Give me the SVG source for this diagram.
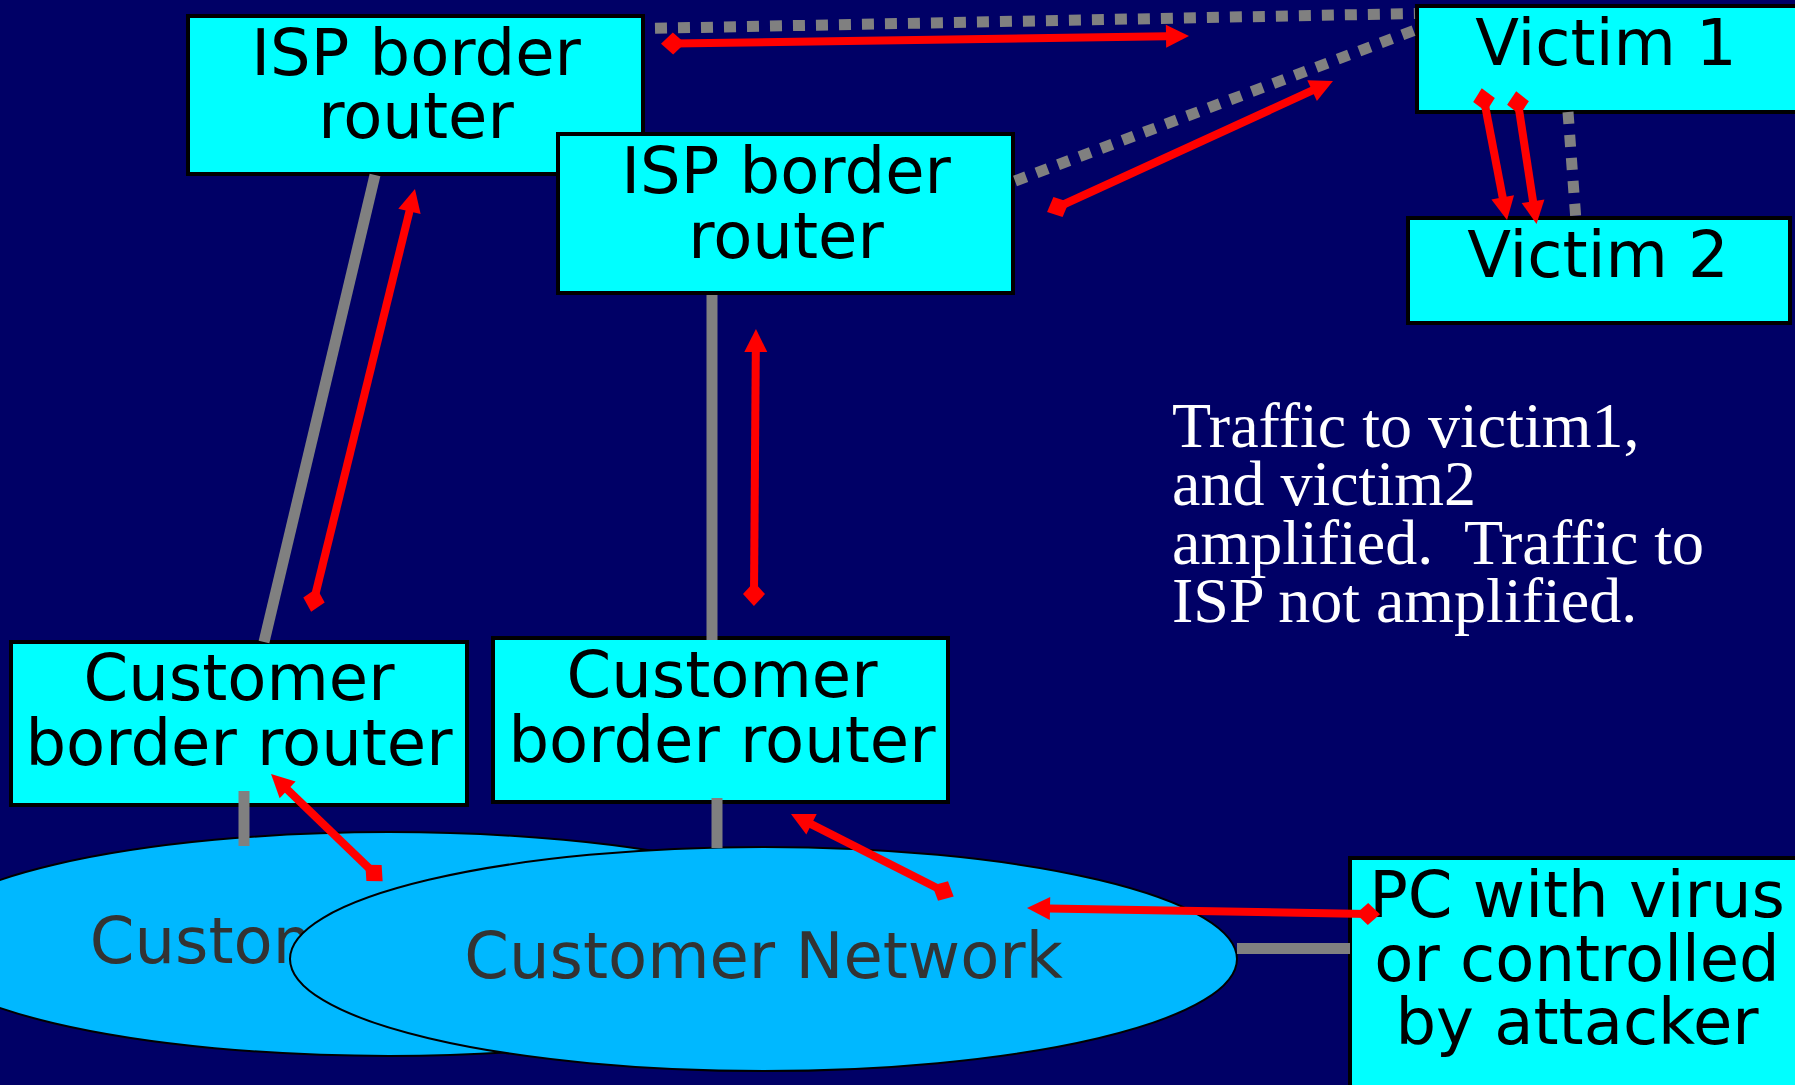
<svg xmlns="http://www.w3.org/2000/svg" width="1795" height="1085" viewBox="0 0 1795 1085">
<style>
.box{fill:#00FFFF;stroke:#000;stroke-width:4}
.lbl{font-family:Verdana,"DejaVu Sans",sans-serif;font-size:64px;fill:#000;text-anchor:middle}
.net{fill:#00B8FF;stroke:#000;stroke-width:2}
.netlbl{font-family:Verdana,"DejaVu Sans",sans-serif;font-size:64px;fill:#333333;text-anchor:middle}
.link{stroke:#808080;stroke-width:11;fill:none}
.dot{stroke:#808080;stroke-width:11;stroke-dasharray:12 11;fill:none}
.flow{stroke:#FF0000;stroke-width:8;fill:none;marker-start:url(#dia);marker-end:url(#arr)}
.note{font-family:"Liberation Serif","Times New Roman",serif;font-size:64px;fill:#FFFFFF;white-space:pre}
</style>
<defs>
<marker id="arr" markerUnits="userSpaceOnUse" viewBox="-2 -12 26 24" markerWidth="26" markerHeight="24" refX="0" refY="0" orient="auto" overflow="visible">
<path d="M-1,-11.5 L22,0 L-1,11.5 z" fill="#FF0000"/>
</marker>
<marker id="dia" markerUnits="userSpaceOnUse" viewBox="-13 -13 26 26" markerWidth="26" markerHeight="26" refX="0" refY="0" orient="auto" overflow="visible">
<path d="M-12,0 L0,-11 L12,0 L0,11 z" fill="#FF0000"/>
</marker>
</defs>
<rect width="1795" height="1085" fill="#000066"/>

<g id="net1">
<ellipse class="net" cx="389" cy="944" rx="474" ry="112"/>
<text class="netlbl" x="389" y="963">Customer Network</text>
</g>
<g id="net2">
<ellipse class="net" cx="763.5" cy="959" rx="473.5" ry="112"/>
<text class="netlbl" x="763.5" y="978">Customer Network</text>
</g>

<g id="isp1">
<rect class="box" x="188" y="16" width="455" height="158"/>
<text class="lbl" x="416" y="75">ISP border</text>
<text class="lbl" x="416" y="138">router</text>
</g>
<g id="isp2">
<rect class="box" x="558" y="134" width="455" height="159"/>
<text class="lbl" x="786" y="193">ISP border</text>
<text class="lbl" x="786" y="258">router</text>
</g>
<g id="victim1">
<rect class="box" x="1417" y="6" width="390" height="106"/>
<text class="lbl" x="1606" y="65">Victim 1</text>
</g>
<g id="victim2">
<rect class="box" x="1408" y="218" width="382" height="105"/>
<text class="lbl" x="1598" y="277">Victim 2</text>
</g>
<g id="cust1">
<rect class="box" x="11" y="642" width="456" height="163"/>
<text class="lbl" x="239" y="700">Customer</text>
<text class="lbl" x="239" y="765">border router</text>
</g>
<g id="cust2">
<rect class="box" x="493" y="638" width="455" height="164"/>
<text class="lbl" x="722" y="697">Customer</text>
<text class="lbl" x="722" y="762">border router</text>
</g>
<g id="pc">
<rect class="box" x="1350" y="858" width="460" height="240"/>
<text class="lbl" x="1577" y="917">PC with virus</text>
<text class="lbl" x="1577" y="981">or controlled</text>
<text class="lbl" x="1577" y="1044">by attacker</text>
</g>

<g id="note">
<text class="note" x="1172" y="447">Traffic to victim1,</text>
<text class="note" x="1172" y="505">and victim2</text>
<text class="note" x="1172" y="564" xml:space="preserve">amplified.  Traffic to</text>
<text class="note" x="1172" y="622">ISP not amplified.</text>
</g>

<g id="connectors">
<line class="link" x1="375" y1="175" x2="264" y2="642"/>
<line class="link" x1="712" y1="295" x2="712" y2="640"/>
<line class="link" x1="244" y1="791" x2="244" y2="846"/>
<line class="link" x1="717" y1="798" x2="717" y2="848"/>
<line class="link" x1="1237" y1="948.5" x2="1350" y2="948.5"/>
<line class="dot" x1="655" y1="28.3" x2="1415" y2="13.5"/>
<line class="dot" x1="1015" y1="181" x2="1415" y2="30"/>
<line class="dot" x1="1568" y1="112" x2="1576" y2="221"/>
<path class="flow" d="M673,43.5 L1167,36.3"/>
<path class="flow" d="M1058,207 L1313,90.2"/>
<path class="flow" d="M1484,100 L1502.9,198.4"/>
<path class="flow" d="M1518,103 L1533.2,202.3"/>
<path class="flow" d="M314,600 L409.7,210.4"/>
<path class="flow" d="M754,594 L755.8,351"/>
<path class="flow" d="M374,873 L286.9,789.2"/>
<path class="flow" d="M943,891 L810.6,823.9"/>
<path class="flow" d="M1368,914 L1049,908.4"/>
</g>
</svg>
